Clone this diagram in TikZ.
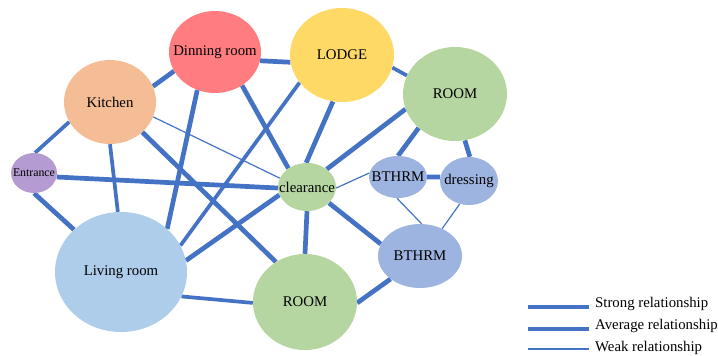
\documentclass[tikz,border=0pt]{standalone}
\usepackage{fontspec}
\setmainfont{Liberation Serif}
\usetikzlibrary{shapes.geometric,backgrounds}
\definecolor{edgeblue}{HTML}{4472C4}
\definecolor{cdin}{HTML}{FF7C80}
\definecolor{clodge}{HTML}{FFD966}
\definecolor{ckit}{HTML}{F5BD96}
\definecolor{cgreen}{HTML}{B5D6A0}
\definecolor{cent}{HTML}{B49CD2}
\definecolor{cliv}{HTML}{ADCDEB}
\definecolor{cbath}{HTML}{9DB4E0}
\begin{document}
\begin{tikzpicture}[x=1pt,y=-1pt,
  bubble/.style={ellipse, inner sep=0pt, draw=none},
  lbl/.style={inner sep=0pt, font=\fontsize{14.8}{16}\selectfont},
  strong/.style={draw=edgeblue, line width=4.7pt},
  average/.style={draw=edgeblue, line width=3.7pt},
  weak/.style={draw=edgeblue, line width=1.2pt}]
\useasboundingbox (0,0) rectangle (718,356);
% nodes
\node[bubble, fill=cdin, minimum width=92pt, minimum height=82pt, label={[lbl]center:Dinning room}] (din) at (215,52) {};
\node[bubble, fill=clodge, minimum width=104pt, minimum height=94pt, label={[lbl]center:LODGE}] (lodge) at (342,55) {};
\node[bubble, fill=cgreen, minimum width=104pt, minimum height=94pt, label={[lbl]center:ROOM}] (roomt) at (455,94) {};
\node[bubble, fill=ckit, minimum width=92pt, minimum height=84pt, label={[lbl]center:Kitchen}] (kit) at (110,102) {};
\node[bubble, fill=cent, minimum width=46pt, minimum height=40pt, label={[lbl,font=\fontsize{11.8}{13}\selectfont]center:Entrance}] (ent) at (34,173) {};
\node[bubble, fill=cgreen, minimum width=58pt, minimum height=48pt, label={[lbl]center:clearance}] (clr) at (307,187) {};
\node[bubble, fill=cbath, minimum width=58pt, minimum height=42pt, label={[lbl]center:BTHRM}] (bth1) at (398,177) {};
\node[bubble, fill=cbath, minimum width=58pt, minimum height=48pt, label={[lbl]center:dressing}] (dress) at (469,181) {};
\node[bubble, fill=cbath, minimum width=84pt, minimum height=64pt, label={[lbl]center:BTHRM}] (bth2) at (420,256) {};
\node[bubble, fill=cliv, minimum width=132pt, minimum height=120pt, label={[lbl]center:Living room}] (liv) at (121,272) {};
\node[bubble, fill=cgreen, minimum width=104pt, minimum height=96pt, label={[lbl]center:ROOM}] (roomb) at (305,302) {};
% edges
\begin{scope}[on background layer]
\draw[strong] (kit.20) -- (din.205);
\draw[average] (kit.206) -- (ent.87);
\draw[average] (kit.270) -- (liv.93);
\draw[weak] (kit.341) -- (clr.162);
\draw[strong] (kit.317) -- (roomb.126);
\draw[strong] (din.349) -- (lodge.188);
\draw[strong] (din.245) -- (liv.43);
\draw[strong] (din.309) -- (clr.135);
\draw[average] (lodge.213) -- (liv.24);
\draw[strong] (lodge.259) -- (clr.92);
\draw[average] (lodge.346) -- (roomt.159);
\draw[strong] (roomt.197) -- (clr.42);
\draw[strong] (roomt.223) -- (bth1.90);
\draw[strong] (roomt.282) -- (dress.88);
\draw[strong] (bth1.0) -- (dress.172);
\draw[weak] (bth1.172) -- (clr.358);
\draw[weak] (bth1.267) -- (bth2.87);
\draw[weak] (dress.248) -- (bth2.51);
\draw[strong] (ent.350) -- (clr.182);
\draw[strong] (ent.270) -- (liv.138);
\draw[strong] (clr.196) -- (liv.10);
\draw[strong] (clr.270) -- (roomb.90);
\draw[strong] (clr.324) -- (bth2.163);
\draw[average] (liv.338) -- (roomb.181);
\draw[strong] (roomb.359) -- (bth2.218);
\end{scope}
% legend
\coordinate (ls) at (528,307);
\coordinate (la) at (528,329);
\coordinate (lw) at (528,349);
\draw[strong] (ls) -- ++(61,0);
\draw[average] (la) -- ++(61,0);
\draw[weak] (lw) -- ++(61,0);
\node[lbl, anchor=west] (ts) at (595,304) {Strong relationship};
\node[lbl, anchor=west] (ta) at (595,326) {Average relationship};
\node[lbl, anchor=west] (tw) at (595,348) {Weak relationship};
\end{tikzpicture}
\end{document}
